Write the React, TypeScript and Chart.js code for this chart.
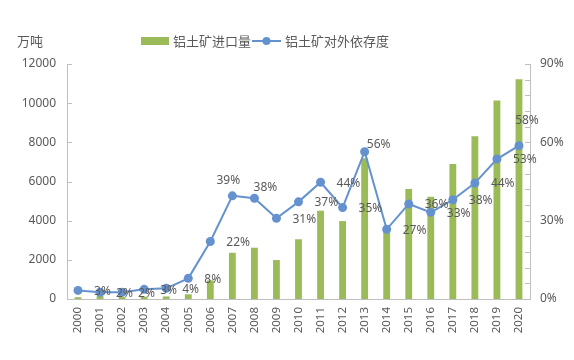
import React, { useEffect, useRef } from "react";
import { Chart, registerables } from "chart.js";

Chart.register(...registerables);

const years = ["2000","2001","2002","2003","2004","2005","2006","2007","2008","2009","2010","2011","2012","2013","2014","2015","2016","2017","2018","2019","2020"];
const importVolume = [90, 150, 100, 120, 130, 240, 950, 2360, 2620, 1990, 3050, 4510, 3980, 7190, 3600, 5620, 5220, 6890, 8310, 10130, 11220];
const dependency = [3.3, 2.6, 2.6, 3.7, 4.1, 7.9, 22, 39.5, 38.6, 30.9, 37.2, 44.7, 35, 56.4, 26.7, 36.4, 33.2, 38, 44.4, 53.6, 58.7];
const dependencyLabels = ["3%","2%","2%","3%","4%","8%","22%","39%","38%","31%","37%","44%","35%","56%","27%","36%","33%","38%","44%","53%","58%"];
const leftTicks = [0, 2000, 4000, 6000, 8000, 10000, 12000];
const rightLabelTicks = [0, 30, 60, 90];
const barName = "铝土矿进口量";
const lineName = "铝土矿对外依存度";
const unitLabel = "万吨";

// label placement style: "r" = right of point, or [dx, dy] center offset
const labelPlacement: (string | number[])[] = ["r","r","r","r","r","r","r",[-4,-15],[11,-11],"r","r","r","r",[14,-7],"r","r","r","r","r","r",[8,-25]];

const GREEN = "#9bbb59";
const BLUE = "#6592cf";
const AXIS = "#bfbfbf";
const TEXT = "#595959";
const FONT = "'Noto Sans', 'Liberation Sans', sans-serif";
const CJK = "'Noto Sans CJK SC', sans-serif";

export default function App() {
  const ref = useRef<HTMLCanvasElement>(null);
  useEffect(() => {
    document.body.style.margin = "0";
    const canvas = ref.current!;
    const overlay = {
      id: "overlay",
      afterDatasetsDraw(chart: any) {
        const ctx = chart.ctx;
        const meta = chart.getDatasetMeta(1);
        ctx.save();
        ctx.font = `12px ${FONT}`;
        ctx.fillStyle = TEXT;
        ctx.textBaseline = "middle";
        meta.data.forEach((pt: any, i: number) => {
          const p = labelPlacement[i];
          if (p === "r") {
            ctx.textAlign = "left";
            ctx.fillText(dependencyLabels[i], pt.x + 16, pt.y + 1);
          } else {
            const o = p as number[];
            ctx.textAlign = "center";
            ctx.fillText(dependencyLabels[i], pt.x + o[0], pt.y + o[1]);
          }
        });
        ctx.restore();
      },
      afterDraw(chart: any) {
        const ctx = chart.ctx;
        const ca = chart.chartArea;
        const yL = chart.scales.y;
        const yR = chart.scales.y1;
        ctx.save();
        ctx.strokeStyle = AXIS;
        ctx.lineWidth = 1;
        // inward tick marks
        leftTicks.forEach((v) => {
          const y = Math.round(yL.getPixelForValue(v)) + 0.5;
          ctx.beginPath();
          ctx.moveTo(ca.left, y);
          ctx.lineTo(ca.left + 5, y);
          ctx.stroke();
        });
        for (let v = 0; v <= 90; v += 6) {
          const y = Math.round(yR.getPixelForValue(v)) + 0.5;
          ctx.beginPath();
          ctx.moveTo(ca.right, y);
          ctx.lineTo(ca.right - 5, y);
          ctx.stroke();
        }
        // unit label
        ctx.fillStyle = TEXT;
        ctx.font = `13px ${CJK}`;
        ctx.textAlign = "left";
        ctx.textBaseline = "middle";
        ctx.fillText(unitLabel, 17, 41);
        // legend
        const ly = 41;
        ctx.fillStyle = GREEN;
        ctx.fillRect(141, ly - 4, 28, 8);
        ctx.fillStyle = TEXT;
        ctx.fillText(barName, 173, ly);
        const lx = 173 + ctx.measureText(barName).width + 1;
        ctx.strokeStyle = BLUE;
        ctx.lineWidth = 2;
        ctx.beginPath();
        ctx.moveTo(lx, ly);
        ctx.lineTo(lx + 29, ly);
        ctx.stroke();
        ctx.fillStyle = BLUE;
        ctx.beginPath();
        ctx.arc(lx + 14.5, ly, 4, 0, Math.PI * 2);
        ctx.fill();
        ctx.fillStyle = TEXT;
        ctx.fillText(lineName, lx + 33, ly);
        ctx.restore();
      },
    };
    const chart = new Chart(canvas, {
      type: "bar",
      data: {
        labels: years,
        datasets: [
          {
            type: "bar",
            label: barName,
            data: importVolume,
            backgroundColor: GREEN,
            yAxisID: "y",
            barPercentage: 0.62,
            categoryPercentage: 0.5,
            order: 2,
          },
          {
            type: "line",
            label: lineName,
            data: dependency,
            borderColor: BLUE,
            backgroundColor: BLUE,
            borderWidth: 2,
            pointRadius: 4.5,
            pointHoverRadius: 4.5,
            pointBackgroundColor: BLUE,
            pointBorderWidth: 0,
            yAxisID: "y1",
            tension: 0,
            order: 1,
          } as any,
        ],
      },
      options: {
        animation: false,
        responsive: false,
        maintainAspectRatio: false,
        layout: { padding: { top: 64, left: 0, right: 0, bottom: 0 } },
        plugins: { legend: { display: false }, tooltip: { enabled: false } },
        scales: {
          x: {
            grid: { display: false, drawTicks: false },
            border: { color: AXIS, width: 1 },
            ticks: {
              color: TEXT,
              font: { size: 11.5, family: FONT },
              minRotation: 90,
              maxRotation: 90,
              padding: 8,
              autoSkip: false,
            },
            afterFit(s: any) { s.height = 61; },
          },
          y: {
            position: "left",
            min: 0,
            max: 12000,
            grid: { display: false, drawTicks: false },
            border: { color: AXIS, width: 1 },
            ticks: {
              color: TEXT,
              font: { size: 12, family: FONT },
              stepSize: 2000,
              padding: 11,
              callback: (v: any) => String(v),
            },
            afterFit(s: any) { s.width = 67; },
          },
          y1: {
            position: "right",
            min: 0,
            max: 90,
            grid: { display: false, drawTicks: false },
            border: { color: AXIS, width: 1 },
            ticks: {
              color: TEXT,
              font: { size: 12, family: FONT },
              stepSize: 30,
              padding: 10,
              callback: (v: any) => (rightLabelTicks.includes(Number(v)) ? `${v}%` : ""),
            },
            afterFit(s: any) { s.width = 44; },
          },
        },
      },
      plugins: [overlay],
    });
    return () => chart.destroy();
  }, []);
  return <canvas ref={ref} width={574} height={360} style={{ display: "block" }} />;
}
